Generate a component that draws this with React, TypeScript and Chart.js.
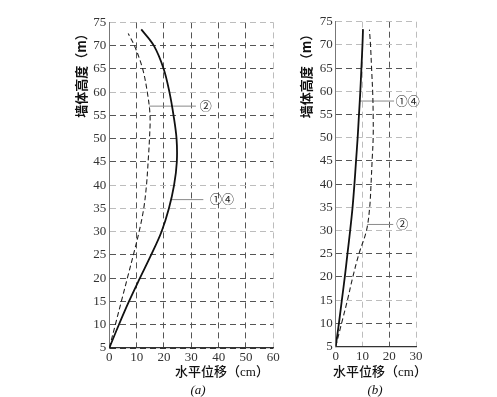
import React, { useEffect, useRef } from 'react';
import { Chart, registerables } from 'chart.js';

Chart.register(...registerables);

// ---------- data ----------
const yTicks = [5, 10, 15, 20, 25, 30, 35, 40, 45, 50, 55, 60, 65, 70, 75];
const xTicksA = [0, 10, 20, 30, 40, 50, 60];
const xTicksB = [0, 10, 20, 30];

// chart (a)
const heightsA14 = [5, 10, 15, 20, 25, 30, 35, 40, 45, 50, 55, 60, 65, 70, 73.5];
const dispA14 = [0, 3.5, 7.2, 11.2, 15.3, 19.1, 21.8, 23.7, 24.7, 24.6, 23.5, 22.0, 19.9, 16.3, 11.7];
const heightsA2 = [5, 10, 15, 20, 25, 30, 35, 40, 45, 50, 55, 60, 65, 70, 72.6];
const dispA2 = [0, 2.2, 4.4, 6.6, 8.8, 10.9, 12.6, 13.6, 14.2, 14.7, 14.9, 13.9, 12.2, 9.2, 6.9];

// chart (b)
const heightsB14 = [5, 10, 15, 20, 25, 30, 35, 40, 45, 50, 55, 60, 65, 70, 73.4];
const dispB14 = [0, 1.2, 2.3, 3.4, 4.4, 5.4, 6.3, 7.0, 7.6, 8.2, 8.7, 9.2, 9.6, 10.0, 10.2];
const heightsB2 = [5, 10, 15, 20, 25, 30, 35, 40, 45, 50, 55, 60, 65, 70, 73.3];
const dispB2 = [0, 2.2, 4.4, 6.4, 8.7, 11.5, 12.7, 13.2, 13.6, 14.0, 14.0, 13.8, 13.4, 13.0, 12.6];

// annotation leader lines and labels (data units)
const leaderA2 = { x1: 14.6, x2: 31.7, y: 57.0, label: '②', lx: 35.3 };
const leaderA14 = { x1: 22.6, x2: 34.4, y: 36.9, label: '①④', lx: 41.2 };
const leaderB14 = { x1: 9.0, x2: 21.8, y: 57.9, label: '①④', lx: 26.9 };
const leaderB2 = { x1: 11.8, x2: 21.5, y: 31.3, label: '②', lx: 24.9 };

const yTitle = '墙体高度（m）';
const xTitle = '水平位移（cm）';

// ---------- styling helpers ----------
const DARK = '#555';
const LIGHT = '#bdbdbd';
const lightYA = [75, 60, 40, 35, 30];
const lightXA = [60];
const lightYB = [75, 70, 60, 50, 35, 30, 15];
const lightXB = [10, 30];

const CJK = '"Noto Sans CJK SC"';
const SERIF = '"Liberation Serif", "DejaVu Serif", serif';

type TextItem = {
  text: string;
  x?: number;
  y?: number;
  dx?: number;
  dy?: number;
  font: string;
  color?: string;
  rotate?: number;
};

function makeTextPlugin(items: TextItem[]) {
  return {
    id: 'customTexts',
    afterDraw(chart: any) {
      const ctx = chart.ctx;
      for (const t of items) {
        let x = t.x as number;
        let y = t.y as number;
        if (t.dx !== undefined && t.dy !== undefined) {
          x = chart.scales.x.getPixelForValue(t.dx);
          y = chart.scales.y.getPixelForValue(t.dy);
        }
        ctx.save();
        ctx.translate(x, y);
        if (t.rotate) ctx.rotate(t.rotate);
        ctx.font = t.font;
        ctx.fillStyle = t.color || '#111';
        ctx.textAlign = 'center';
        ctx.textBaseline = 'middle';
        ctx.fillText(t.text, 0, 0);
        ctx.restore();
      }
    },
  };
}

function toPoints(xs: number[], ys: number[]) {
  return xs.map((v, i) => ({ x: v, y: ys[i] }));
}

function leaderDataset(l: { x1: number; x2: number; y: number }) {
  return {
    data: [
      { x: l.x1, y: l.y },
      { x: l.x2, y: l.y },
    ],
    showLine: true,
    borderColor: '#8a8a8a',
    borderWidth: 1,
    pointRadius: 0,
    tension: 0,
  };
}

function buildConfig(opts: {
  xMax: number;
  xTicks: number[];
  solid: { x: number; y: number }[];
  dashed: { x: number; y: number }[];
  leaders: { x1: number; x2: number; y: number }[];
  lightX: number[];
  lightY: number[];
  padTop: number;
  padRight: number;
  yAxisWidth: number;
  xAxisHeight: number;
  texts: TextItem[];
}) {
  return {
    type: 'scatter' as const,
    data: {
      datasets: [
        {
          data: opts.solid,
          showLine: true,
          borderColor: '#111',
          borderWidth: 1.8,
          pointRadius: 0,
          tension: 0.35,
        },
        {
          data: opts.dashed,
          showLine: true,
          borderColor: '#222',
          borderWidth: 1.1,
          borderDash: [5, 3],
          pointRadius: 0,
          tension: 0.35,
        },
        ...opts.leaders.map(leaderDataset),
      ],
    },
    options: {
      responsive: false,
      animation: false,
      layout: { padding: { left: 0, top: opts.padTop, right: opts.padRight, bottom: 0 } },
      plugins: { legend: { display: false }, tooltip: { enabled: false } },
      scales: {
        x: {
          type: 'linear',
          min: 0,
          max: opts.xMax,
          afterBuildTicks: (s: any) => {
            s.ticks = opts.xTicks.map((v) => ({ value: v }));
          },
          afterFit: (s: any) => {
            s.height = opts.xAxisHeight;
          },
          ticks: {
            font: { family: SERIF, size: 13 },
            color: '#333',
            padding: 2,
            maxRotation: 0,
            autoSkip: false,
          },
          grid: {
            drawTicks: false,
            lineWidth: 1,
            color: (c: any) =>
              c.tick && c.tick.value === 0 ? '#666' : opts.lightX.includes(c.tick?.value) ? LIGHT : DARK,
          },
          border: { display: true, color: '#333', width: 1.2, dash: [6, 4] },
        },
        y: {
          type: 'linear',
          min: 5,
          max: 75,
          afterBuildTicks: (s: any) => {
            s.ticks = yTicks.map((v) => ({ value: v }));
          },
          afterFit: (s: any) => {
            s.width = opts.yAxisWidth;
          },
          ticks: {
            font: { family: SERIF, size: 13 },
            color: '#333',
            padding: 3,
            autoSkip: false,
          },
          grid: {
            drawTicks: false,
            lineWidth: 1,
            color: (c: any) =>
              c.tick && c.tick.value === 5 ? '#333' : opts.lightY.includes(c.tick?.value) ? LIGHT : DARK,
          },
          border: { display: true, color: '#777', width: 1, dash: [6, 4] },
        },
      },
    },
    plugins: [makeTextPlugin(opts.texts)],
  };
}

export default function App() {
  const refA = useRef<HTMLCanvasElement | null>(null);
  const refB = useRef<HTMLCanvasElement | null>(null);

  useEffect(() => {
    if (!refA.current || !refB.current) return;

    const cfgA = buildConfig({
      xMax: 60,
      xTicks: xTicksA,
      solid: toPoints(dispA14, heightsA14),
      dashed: toPoints(dispA2, heightsA2),
      leaders: [leaderA2, leaderA14],
      lightX: lightXA,
      lightY: lightYA,
      padTop: 22.4,
      padRight: 290 - 273.3,
      yAxisWidth: 109.3,
      xAxisHeight: 397 - 348,
      texts: [
        { text: yTitle, x: 81, y: 72.5, rotate: -Math.PI / 2, font: `bold 13px ${CJK}` },
        { text: xTitle, x: 222, y: 373, font: `500 13px "Liberation Serif", ${CJK}` },
        { text: '(a)', x: 198, y: 391, font: `italic 13px ${SERIF}` },
        { text: leaderA2.label, dx: leaderA2.lx, dy: leaderA2.y, font: `12px ${CJK}`, color: '#222' },
        { text: leaderA14.label, dx: leaderA14.lx, dy: leaderA14.y, font: `12px ${CJK}`, color: '#222' },
      ],
    });

    const cfgB = buildConfig({
      xMax: 30,
      xTicks: xTicksB,
      solid: toPoints(dispB14, heightsB14),
      dashed: toPoints(dispB2, heightsB2),
      leaders: [leaderB14, leaderB2],
      lightX: lightXB,
      lightY: lightYB,
      padTop: 21.7,
      padRight: 207 - 126,
      yAxisWidth: 45.7,
      xAxisHeight: 397 - 346.5,
      texts: [
        { text: yTitle, x: 16, y: 73, rotate: -Math.PI / 2, font: `bold 13px ${CJK}` },
        { text: xTitle, x: 90, y: 373, font: `500 13px "Liberation Serif", ${CJK}` },
        { text: '(b)', x: 85, y: 391, font: `italic 13px ${SERIF}` },
        { text: leaderB14.label, dx: leaderB14.lx, dy: leaderB14.y, font: `12px ${CJK}`, color: '#222' },
        { text: leaderB2.label, dx: leaderB2.lx, dy: leaderB2.y, font: `12px ${CJK}`, color: '#222' },
      ],
    });

    const chartA = new Chart(refA.current, cfgA as any);
    const chartB = new Chart(refB.current, cfgB as any);
    return () => {
      chartA.destroy();
      chartB.destroy();
    };
  }, []);

  return (
    <div style={{ position: 'absolute', left: 0, top: 0, width: 497, height: 397, background: '#fff' }}>
      <canvas
        ref={refA}
        width={290}
        height={397}
        style={{ position: 'absolute', left: 0, top: 0, width: 290, height: 397 }}
      />
      <canvas
        ref={refB}
        width={207}
        height={397}
        style={{ position: 'absolute', left: 290, top: 0, width: 207, height: 397 }}
      />
    </div>
  );
}
